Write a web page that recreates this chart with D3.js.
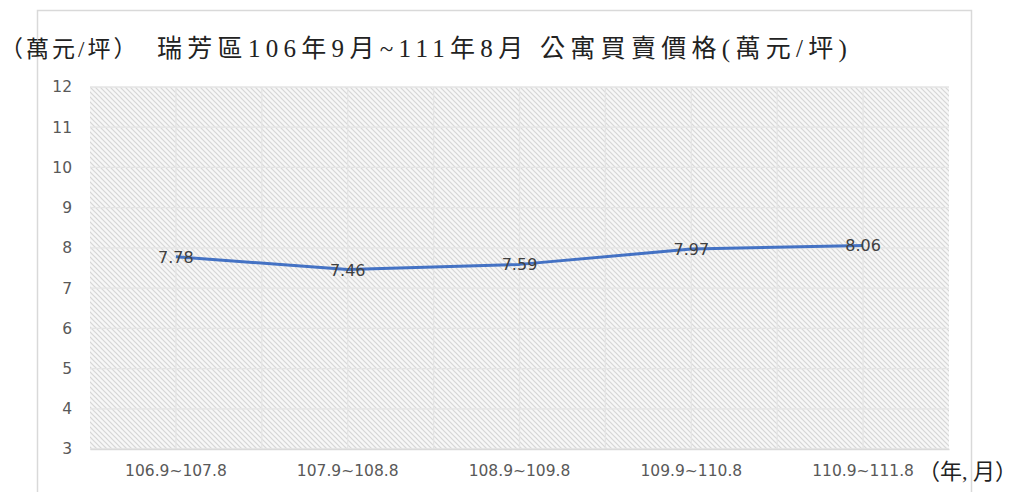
<!DOCTYPE html>
<html>
<head>
<meta charset="utf-8">
<script src="https://cdn.jsdelivr.net/npm/d3@7"></script>
<style>
  body { margin: 0; background: #fff; }
</style>
</head>
<body>
<div id="root"></div>
<script>
// data
var periods = ["106.9~107.8", "107.9~108.8", "108.9~109.8", "109.9~110.8", "110.9~111.8"];
var prices = [7.78, 7.46, 7.59, 7.97, 8.06];
var yTicks = [3, 4, 5, 6, 7, 8, 9, 10, 11, 12];

var W = 1027, H = 492;
var margin = {top: 87, right: 78, bottom: 43, left: 90},
    width = W - margin.left - margin.right,
    height = H - margin.top - margin.bottom;

var svg = d3.select("#root")
  .append("svg")
  .attr("width", W)
  .attr("height", H);

// hatch pattern
var defs = svg.append("defs");
var pat = defs.append("pattern")
  .attr("id", "hatch")
  .attr("patternUnits", "userSpaceOnUse")
  .attr("width", 5).attr("height", 5);
pat.append("rect").attr("width", 5).attr("height", 5).attr("fill", "#f7f7f7");
pat.append("path")
  .attr("d", "M-1,-1 L6,6 M-1,4 L1,6 M4,-1 L6,1")
  .attr("stroke", "#d6d6d6").attr("stroke-width", 1.2);

// outer border of chart
svg.append("rect")
  .attr("x", 37.5).attr("y", 10.5)
  .attr("width", 934).attr("height", 490)
  .attr("fill", "none").attr("stroke", "#d9d9d9").attr("stroke-width", 1.5);

var g = svg.append("g")
  .attr("transform", "translate(" + margin.left + "," + margin.top + ")");

var x = d3.scaleBand().domain(periods).range([0, width]);
var y = d3.scaleLinear().domain([3, 12]).range([height, 0]);

g.append("rect")
  .attr("width", width).attr("height", height)
  .attr("fill", "url(#hatch)");

// horizontal grid
g.append("g")
  .selectAll("line")
  .data(yTicks)
  .enter().append("line")
  .attr("x1", 0).attr("x2", width)
  .attr("y1", d => y(d)).attr("y2", d => y(d))
  .attr("stroke", "#e4e4e4").attr("stroke-width", 1.3);

// vertical grid: category centres and boundaries
var vx = [];
periods.forEach(function (p, i) {
  vx.push(x(p) + x.bandwidth() / 2);
  if (i > 0) vx.push(x(p));
});
g.append("g")
  .selectAll("line")
  .data(vx)
  .enter().append("line")
  .attr("x1", d => d).attr("x2", d => d)
  .attr("y1", 0).attr("y2", height)
  .attr("stroke", "#e4e4e4").attr("stroke-width", 1.3);

var sans = "'DejaVu Sans', sans-serif";

// y axis
var yAxis = g.append("g")
  .call(d3.axisLeft(y).tickValues(yTicks).tickSize(0).tickPadding(18));
yAxis.select(".domain").remove();
yAxis.selectAll("text")
  .attr("fill", "#595959")
  .style("font-family", sans)
  .style("font-size", "15.5px");

// x axis
var xAxis = g.append("g")
  .attr("transform", "translate(0," + height + ")")
  .call(d3.axisBottom(x).tickSize(0).tickPadding(16));
xAxis.select(".domain").attr("stroke", "#d9d9d9").attr("stroke-width", 1.5);
xAxis.selectAll("text")
  .attr("fill", "#595959")
  .style("font-family", sans)
  .style("font-size", "15.5px");

// line
var line = d3.line()
  .x((d, i) => x(periods[i]) + x.bandwidth() / 2)
  .y(d => y(d));
g.append("path")
  .datum(prices)
  .attr("d", line)
  .attr("fill", "none")
  .attr("stroke", "#4472c4")
  .attr("stroke-width", 3)
  .attr("stroke-linejoin", "round");

// data labels
g.append("g")
  .selectAll("text")
  .data(prices)
  .enter().append("text")
  .attr("x", (d, i) => x(periods[i]) + x.bandwidth() / 2)
  .attr("y", d => y(d) + 6)
  .attr("text-anchor", "middle")
  .attr("fill", "#404040")
  .style("font-family", sans)
  .style("font-size", "16px")
  .text(d => d.toFixed(2));

// title and units
var serif = "'Liberation Serif', 'Noto Sans CJK TC', serif";
svg.append("text")
  .attr("x", 157).attr("y", 57)
  .style("font-family", serif).style("font-size", "25px")
  .style("letter-spacing", "5.3px")
  .attr("fill", "#222")
  .text("瑞芳區106年9月~111年8月 公寓買賣價格(萬元/坪)");

svg.append("text")
  .attr("x", 0).attr("y", 57)
  .style("font-family", serif).style("font-size", "23px")
  .style("letter-spacing", "3px")
  .attr("fill", "#222")
  .text("（萬元/坪）");

svg.append("text")
  .attr("x", 918).attr("y", 479)
  .style("font-family", serif).style("font-size", "22px")
  .attr("fill", "#222")
  .text("（年, 月）");
</script>
</body>
</html>
